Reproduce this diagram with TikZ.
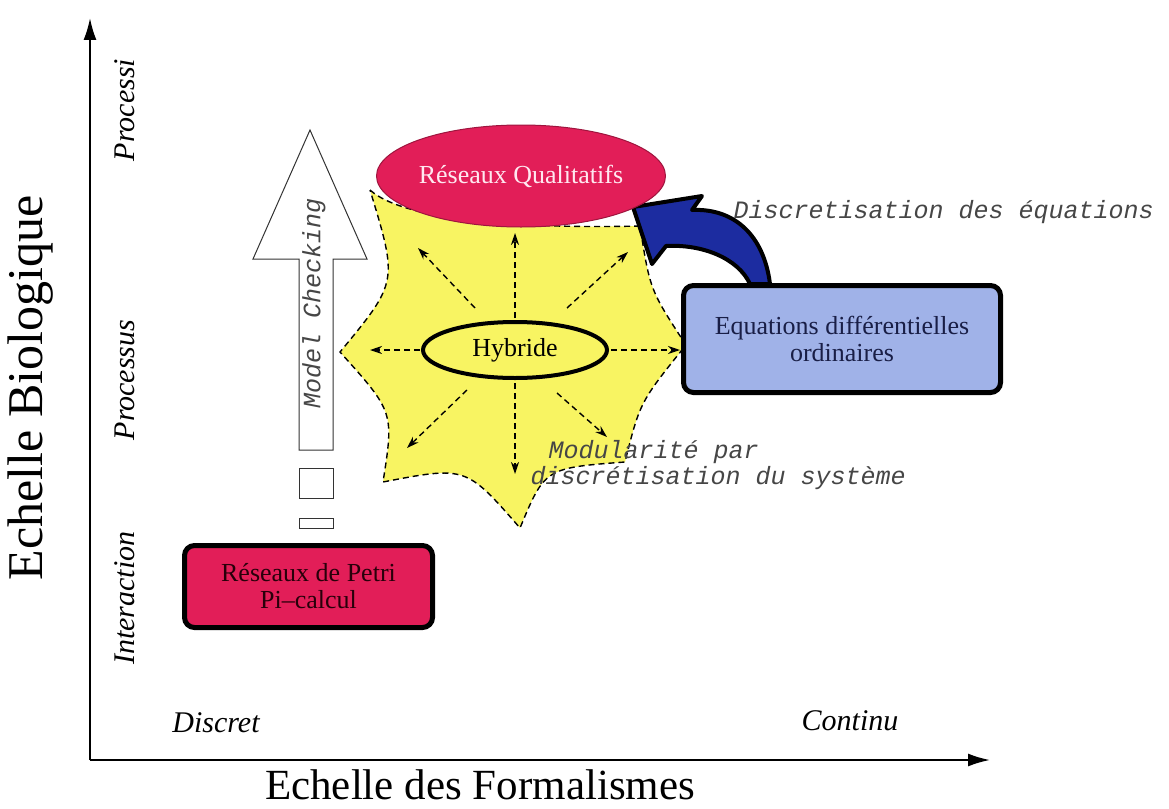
\documentclass[tikz,border=0pt]{standalone}
\usepackage{fontspec}
\setmainfont{Liberation Serif}
\setmonofont{Liberation Mono}
\usetikzlibrary{shapes.geometric,arrows.meta}

\definecolor{starfill}{RGB}{248,244,98}
\definecolor{crimson}{RGB}{226,30,88}
\definecolor{paleblue}{RGB}{160,178,232}
\definecolor{deepblue}{RGB}{28,44,160}
\definecolor{navytext}{RGB}{25,30,70}
\definecolor{monogray}{RGB}{70,70,70}

\begin{document}
\begin{tikzpicture}[x=1pt,y=-1pt,
  axislab/.style={font=\fontsize{30}{34}\selectfont\itshape},
  bigtitle/.style={font=\fontsize{43}{48}\selectfont},
  mono/.style={font=\fontsize{25}{28}\selectfont\ttfamily\itshape, text=monogray},
  ray/.style={line width=1.4pt, dash pattern=on 6pt off 4pt, -{Stealth[length=12pt,width=8pt]}},
  stepbox/.style={rounded corners=10pt, line width=5pt, draw=black, align=center,
    font=\fontsize{26}{27}\selectfont, inner sep=0pt},
  oval/.style={ellipse, inner sep=0pt, align=center}]

\useasboundingbox (0,0) rectangle (1169,808);

% axes
\coordinate (origin) at (90,760);
\coordinate (ytop) at (90,18);
\coordinate (xend) at (990,760);
\draw[line width=2pt, -{Latex[length=22pt,width=13pt]}] (origin) -- (ytop);
\draw[line width=2pt, -{Latex[length=22pt,width=13pt]}] (origin) -- (xend);

\node[font=\fontsize{50}{54}\selectfont, rotate=90] (ybio) at (31,388) {Echelle Biologique};
\node[bigtitle, anchor=base] (xform) at (480,799) {Echelle des Formalismes};

\node[axislab, rotate=90] (lproc) at (125,110) {Processi};
\node[axislab, rotate=90] (lprocs) at (125,380) {Processus};
\node[axislab, rotate=90] (linter) at (125,598) {Interaction};
\node[axislab] (ldisc) at (216,723) {Discret};
\node[axislab] (lcont) at (850,721) {Continu};

% hollow arrow for model checking, with its two trailing blocks
\draw[line width=1pt, draw=black!80, fill=white]
  (299,450) -- (299,259) -- (253,259) -- (310,130) -- (367,259) -- (333,259) -- (333,450) -- cycle;
\draw[line width=1pt, draw=black!80, fill=white] (299,468) rectangle (333,498);
\draw[line width=1pt, draw=black!80, fill=white] (299,518) rectangle (333,528);
\node[mono, rotate=90] (mc) at (314,303) {Model Checking};

% hybrid star region
\draw[fill=starfill, line width=1.4pt, dash pattern=on 6pt off 4pt]
  (370,190) .. controls (410,226) and (560,228) .. (640,226)
  .. controls (650,290) .. (686,345)
  .. controls (640,402) .. (625,462)
  .. controls (545,468) .. (520,528)
  .. controls (466,466) .. (383,482)
  .. controls (394,412) .. (340,352)
  .. controls (398,282) .. cycle;

% discretisation arrow (curved, blue)
\draw[fill=deepblue, line width=4pt, line join=round]
  (770,284) .. controls (764,236) and (735,208) .. (692,210)
  -- (702,196) -- (633,207) -- (652,264) -- (666,246)
  .. controls (702,244) and (738,258) .. (750,284) -- cycle;

% nodes
\node[oval, draw=crimson!70!black, line width=1pt, fill=crimson,
  minimum width=228pt, minimum height=102pt,
  font=\fontsize{26}{28}\selectfont, text={rgb,255:red,255;green,232;blue,240}]
  (rq) at (521,176) {Réseaux Qualitatifs};

\node[oval, draw=black, line width=4pt, fill=starfill,
  minimum width=184pt, minimum height=56pt, font=\fontsize{26}{28}\selectfont]
  (hyb) at (515,350) {Hybride};

\node[stepbox, fill=crimson, minimum width=248pt, minimum height=82pt,
  text={rgb,255:red,40;green,0;blue,10}]
  (petri) at (308.5,586.5) {Réseaux de Petri\\Pi--calcul};

\node[stepbox, fill=paleblue, minimum width=317pt, minimum height=107pt, text=navytext]
  (edo) at (842,339) {Equations différentielles\\ordinaires};

% rays from the hybrid node
\coordinate (sU) at (515,318);  \coordinate (eU) at (515,233);
\coordinate (sD) at (515,383);  \coordinate (eD) at (515,474);
\coordinate (sL) at (420,350);  \coordinate (eL) at (370,350);
\coordinate (sR) at (611,350);  \coordinate (eR) at (680,350);
\coordinate (sUL) at (475,308); \coordinate (eUL) at (418,248);
\coordinate (sUR) at (567,308); \coordinate (eUR) at (628,252);
\coordinate (sDL) at (467,390); \coordinate (eDL) at (407,448);
\coordinate (sDR) at (557,393); \coordinate (eDR) at (607,437);
\foreach \d in {U,D,L,R,UL,UR,DL,DR} \draw[ray] (s\d) -- (e\d);

% annotations
\node[mono, anchor=base west] (ldisceq) at (730,218) {Discretisation des équations};
\node[mono, anchor=base west] (lmod1) at (545,458) {Modularité par};
\node[mono, anchor=base west] (lmod2) at (527,484) {discrétisation du système};

\end{tikzpicture}
\end{document}
